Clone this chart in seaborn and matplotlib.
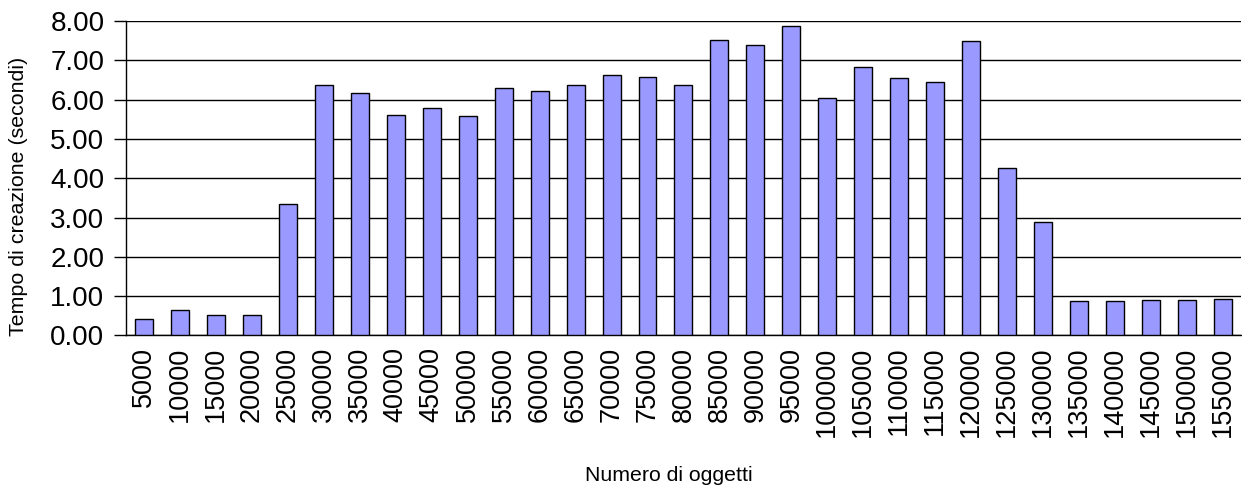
import matplotlib
matplotlib.use("Agg")
import matplotlib.pyplot as plt
import seaborn as sns
import pandas as pd
from matplotlib.ticker import FormatStrFormatter, FixedLocator

# Data
oggetti = [5000, 10000, 15000, 20000, 25000, 30000, 35000, 40000, 45000, 50000,
           55000, 60000, 65000, 70000, 75000, 80000, 85000, 90000, 95000, 100000,
           105000, 110000, 115000, 120000, 125000, 130000, 135000, 140000, 145000,
           150000, 155000]
tempi = [0.42, 0.66, 0.53, 0.53, 3.35, 6.38, 6.17, 5.61, 5.78, 5.59,
         6.30, 6.21, 6.36, 6.63, 6.58, 6.36, 7.51, 7.40, 7.86, 6.03,
         6.84, 6.54, 6.46, 7.50, 4.27, 2.88, 0.87, 0.87, 0.89, 0.91, 0.94]

df = pd.DataFrame({"oggetti": [str(o) for o in oggetti], "tempo": tempi})

sns.set_style("white")
plt.rcParams['font.family'] = ['Liberation Sans', 'DejaVu Sans']
plt.rcParams['text.color'] = 'black'
plt.rcParams['axes.labelcolor'] = 'black'
plt.rcParams['xtick.color'] = 'black'
plt.rcParams['ytick.color'] = 'black'

fig = plt.figure(figsize=(12.42, 4.86), dpi=100)
ax = fig.add_axes([0.1014, 0.3097, 0.8978, 0.6471])

sns.barplot(x="oggetti", y="tempo", data=df, color="#9999FF", width=0.5,
            edgecolor="black", linewidth=1, saturation=1, ax=ax, zorder=3)

ax.set_ylim(0, 8)
ax.set_xlim(-0.5, len(oggetti) - 0.5)
ax.set_yticks(range(0, 9))
ax.yaxis.set_major_formatter(FormatStrFormatter('%.2f'))
ax.grid(axis='y', color='black', linewidth=1, zorder=0)
ax.set_axisbelow(True)

for s in ['top', 'right']:
    ax.spines[s].set_visible(False)
for s in ['left', 'bottom']:
    ax.spines[s].set_color('black')
    ax.spines[s].set_linewidth(1)

# tick marks between categories, labels centred under bars
ax.xaxis.set_minor_locator(FixedLocator([i - 0.5 for i in range(len(oggetti) + 1)]))
ax.tick_params(axis='x', which='major', length=0, labelsize=19.5, rotation=90, pad=8)
ax.tick_params(axis='x', which='minor', length=7, width=1, color='black', direction='out')
ax.tick_params(axis='y', length=8.5, width=1, color='black', direction='out',
               labelsize=20, pad=7, left=True)

ax.set_xlabel("Numero di oggetti", fontsize=15.3)
ax.set_ylabel("Tempo di creazione (secondi)", fontsize=15.4)
ax.xaxis.set_label_coords(0.487, -0.416)
ax.yaxis.set_label_coords(-0.088, 0.443)

fig.savefig("out.png", dpi=100)
